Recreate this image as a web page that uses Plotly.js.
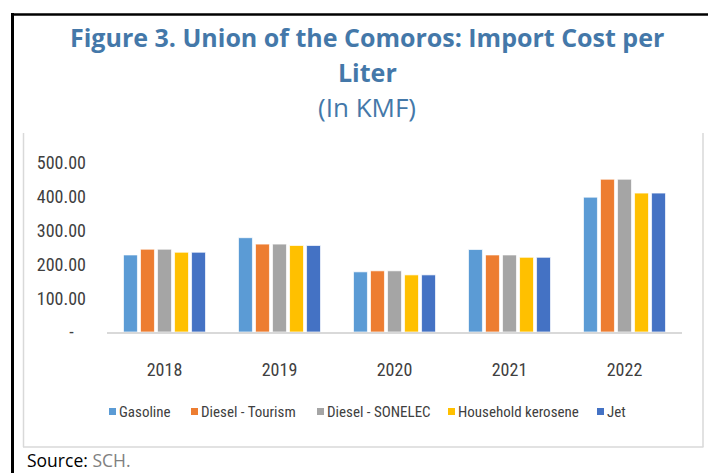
<!DOCTYPE html>
<html><head><meta charset="utf-8">
<script src="https://cdn.plot.ly/plotly-3.0.1.min.js"></script>
<style>body{margin:0;background:#fff}#c{width:708px;height:473px}</style>
</head><body><div id="c"></div>
<script>
const years = ["2018","2019","2020","2021","2022"];
const seriesNames = ["Gasoline","Diesel - Tourism","Diesel - SONELEC","Household kerosene","Jet"];
const gasoline = [228, 279, 178, 244, 399];
const dieselTourism = [245, 260, 181, 228, 452];
const dieselSonelec = [245, 260, 181, 228, 452];
const kerosene = [236, 256, 169, 221, 411];
const jet = [236, 256, 169, 221, 411];
const yTickVals = [0,100,200,300,400,500];
const yTickText = ["-\u00a0\u00a0\u00a0","100.00","200.00","300.00","400.00","500.00"];
const colors = ["#5B9BD5","#ED7D31","#A5A5A5","#FFC000","#4472C4"];
const allSeries = [gasoline, dieselTourism, dieselSonelec, kerosene, jet];

const W=708,H=473,L=107,R=682,T=163,B=332;
const px = x => (x-L)/(R-L);
const py = y => (B-y)/(B-T);
const narrow = "Liberation Sans Narrow, Arial Narrow, Roboto Condensed, sans-serif";

const traces = allSeries.map((vals,i)=>({
  type:"bar", x:years, y:vals, name:seriesNames[i],
  marker:{color:colors[i], line:{color:"rgba(255,255,255,0.7)", width:1}},
  hoverinfo:"skip"
}));

const shapes = [
  {type:"line", xref:"paper", yref:"paper", x0:px(12.5), x1:px(12.5), y0:py(13), y1:py(480), line:{color:"#000", width:3}},
  {type:"line", xref:"paper", yref:"paper", x0:px(11), x1:px(720), y0:py(14.5), y1:py(14.5), line:{color:"#000", width:2.5}},
  {type:"line", xref:"paper", yref:"paper", x0:px(23.5), x1:px(23.5), y0:py(133), y1:py(447), line:{color:"#D9D9D9", width:1.5}},
  {type:"line", xref:"paper", yref:"paper", x0:px(703), x1:px(703), y0:py(133), y1:py(447), line:{color:"#D9D9D9", width:1.5}},
  {type:"line", xref:"paper", yref:"paper", x0:px(23), x1:px(703.5), y0:py(447), y1:py(447), line:{color:"#D9D9D9", width:1.5}}
];
const legendX = [109,191,317,448,597];
const ann = (text,x,y,size,color,xanchor,family)=>({text:text, x:px(x), y:py(y), xref:"paper", yref:"paper", xanchor:xanchor||"center", yanchor:"middle", showarrow:false, font:{family:family||"Open Sans, sans-serif", size:size, color:color}});
const annotations = [
  ann("<b>Figure 3. Union of the Comoros: Import Cost per</b>", 367, 37, 25, "#4478A9"),
  ann("<b>Liter</b>", 367, 72, 25, "#4478A9"),
  ann("(In KMF)", 367, 107, 26, "#4478A9"),
  ann("Source: <span style='color:#808080'>SCH.</span>", 25, 460, 17.5, "#000", "left")
];
seriesNames.forEach((n,i)=>{
  shapes.push({type:"rect", xref:"paper", yref:"paper", x0:px(legendX[i]), x1:px(legendX[i]+7), y0:py(408), y1:py(415), fillcolor:colors[i], line:{width:0}});
  annotations.push(ann(n, legendX[i]+8, 411.5, 15, "#404040", "left", narrow));
});

const layout = {
  width:W, height:H,
  margin:{l:L, r:W-R, t:T, b:H-B, pad:0},
  paper_bgcolor:"#fff", plot_bgcolor:"#fff",
  showlegend:false,
  bargap:0.26, bargroupgap:0.18, barmode:"group",
  xaxis:{type:"category", showgrid:false, showline:true, linecolor:"#D9D9D9", linewidth:2, ticks:"", ticklabelstandoff:20,
    tickfont:{family:narrow, size:18, color:"#404040"}, zeroline:false, fixedrange:true},
  yaxis:{range:[0,500], tickvals:yTickVals, ticktext:yTickText, showgrid:false, zeroline:false, showline:false, ticks:"",
    ticklabelstandoff:20, tickfont:{family:narrow, size:18, color:"#404040"}, fixedrange:true},
  shapes:shapes, annotations:annotations
};
Plotly.newPlot("c", traces, layout, {displayModeBar:false, staticPlot:true});
</script></body></html>
